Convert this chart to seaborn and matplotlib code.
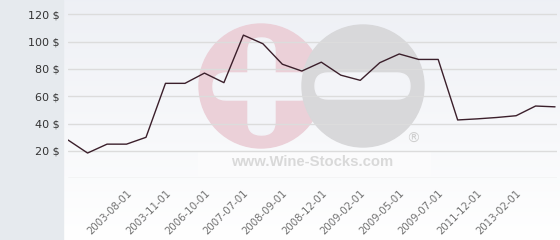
import numpy as np
import matplotlib
matplotlib.use("Agg")
import matplotlib.pyplot as plt
from matplotlib.patches import Rectangle, Circle, FancyBboxPatch
import seaborn as sns
import pandas as pd

# ---- data ----
prices = [28, 18.5, 25, 25, 30, 69.5, 69.5, 77, 70, 104.8, 98.5, 83.5, 78.5,
          85, 75.5, 71.7, 84.6, 91, 87, 87, 42.7, 43.5, 44.5, 45.8, 52.9, 52.3]
tick_labels = ["2003-08-01", "2003-11-01", "2006-10-01", "2007-07-01", "2008-09-01",
               "2008-12-01", "2009-02-01", "2009-05-01", "2009-07-01", "2011-12-01",
               "2013-02-01"]
y_ticks = [20, 40, 60, 80, 100, 120]
grid_levels = [0, 20, 40, 60, 80, 100, 120]

df = pd.DataFrame({"idx": np.arange(len(prices)), "price": prices})

sns.set_theme(style="white")
plt.rcParams["font.family"] = ["DejaVu Sans"]

W, H = 560, 240
fig = plt.figure(figsize=(W / 100, H / 100), dpi=100)

# ---- background / watermark layer (pixel coordinates) ----
bg = fig.add_axes([0, 0, 1, 1], zorder=0)
bg.set_xlim(0, W)
bg.set_ylim(H, 0)
bg.axis("off")
grad = np.linspace(0, 1, 256).reshape(-1, 1)
top = np.array([0.933, 0.941, 0.961])
bot = np.array([1.0, 1.0, 1.0])
img = top[None, None, :] * (1 - grad[..., None]) + bot[None, None, :] * grad[..., None]
bg.imshow(img, extent=(63, W, H, 0), aspect="auto", zorder=0)
bg.add_patch(Rectangle((0, 0), 63, H, color="#e6eaee", zorder=1))

wm_bg = "#f3f4f8"
bg.add_patch(Circle((261, 86), 62, color="#ebd0d8", zorder=2))
# plus sign cut-out
bg.add_patch(FancyBboxPatch((213, 73), 100, 27, boxstyle="round,pad=0,rounding_size=13",
                            color=wm_bg, zorder=3))
bg.add_patch(FancyBboxPatch((248, 38), 27, 97, boxstyle="round,pad=0,rounding_size=13",
                            color=wm_bg, zorder=3))
bg.add_patch(Circle((363, 86), 61, color="#d8d8da", zorder=4))
# minus sign cut-out
bg.add_patch(FancyBboxPatch((315, 73), 95, 26, boxstyle="round,pad=0,rounding_size=13",
                            color=wm_bg, zorder=5))
bg.add_patch(Rectangle((198, 151), 232, 25, color="#fbfbfc", zorder=5))
bg.text(312, 162, "www.Wine-Stocks.com", family="Liberation Sans", weight="bold",
        fontsize=10.7, color="#d9d9d9", ha="center", va="center", zorder=6)
bg.text(413, 139, "®", fontsize=10, color="#cfcfcf", ha="center", va="center", zorder=6)

# ---- main chart ----
x0, x1 = 67.5, 557
ax = fig.add_axes([x0 / W, (H - 178.3) / H, (x1 - x0) / W, 178.3 / H], zorder=2)
ax.patch.set_alpha(0)
for lvl in grid_levels:
    ax.axhline(lvl, color="#dcdcdc", linewidth=1, zorder=1)
sns.lineplot(data=df, x="idx", y="price", ax=ax, color="#3b1f2b", linewidth=1.0, zorder=3)
ax.set_xlim(-0.03, len(prices) - 1 + 0.1)
ax.set_ylim(0, 130.5)
ax.set_yticks(y_ticks)
ax.set_yticklabels([f"{v} $" for v in y_ticks], fontsize=8, color="#333333")
ax.tick_params(axis="y", length=0, pad=6)
pos = list(range(3, 3 + 2 * len(tick_labels), 2))
ax.set_xticks(pos)
ax.set_xticklabels(tick_labels, rotation=45, ha="right", rotation_mode="anchor",
                   fontsize=7.3, color="#707070")
ax.tick_params(axis="x", length=0, pad=7)
ax.set_xlabel("")
ax.set_ylabel("")
for s in ax.spines.values():
    s.set_visible(False)

fig.savefig("out.png", dpi=100)
